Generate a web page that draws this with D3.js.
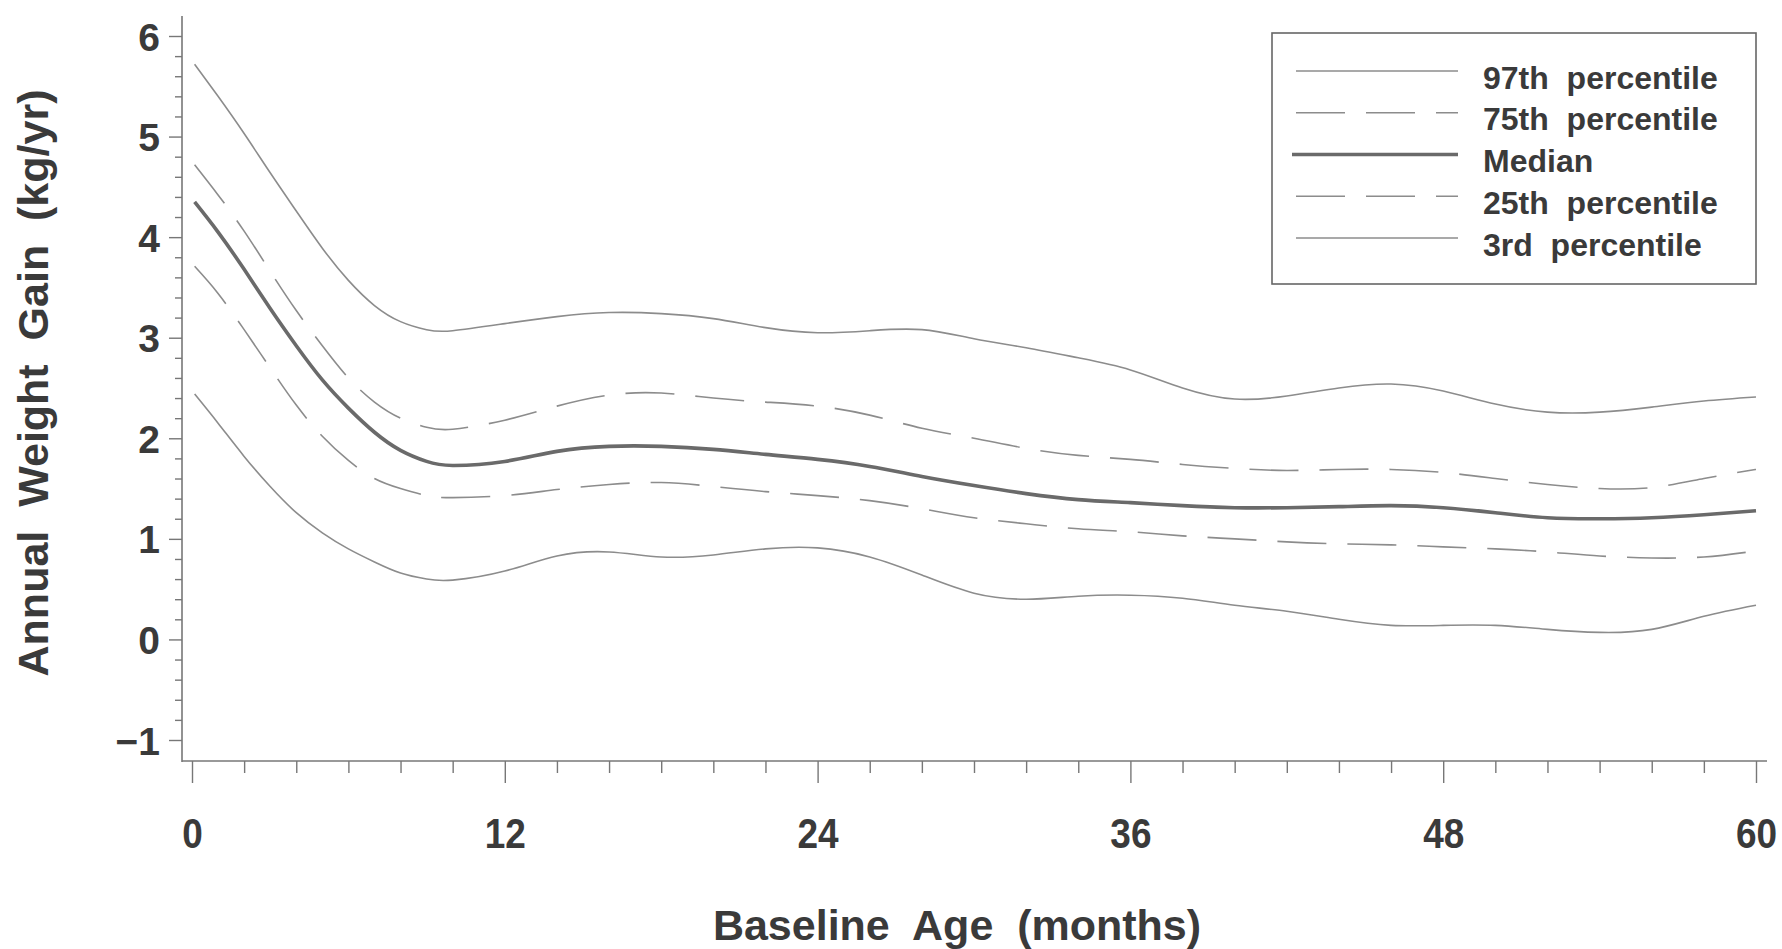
<!DOCTYPE html>
<html><head><meta charset="utf-8">
<script src="https://cdn.jsdelivr.net/npm/d3@7"></script>
<style>
body{margin:0;background:#fff;}
svg text{font-family:"Liberation Sans",Arial,Helvetica,sans-serif;font-weight:bold;fill:#3a3a3a;white-space:pre;}
</style></head>
<body><svg id="c" width="1782" height="949"></svg>
<script>
const months = [0.1,1,2,3,4,5,6,7,8,9,10,12,14,16,18,20,22,24,26,28,30,32,34,36,38,40,42,44,46,48,50,52,54,56,58,60];
const p97 = [5.72,5.40,5.03,4.64,4.26,3.89,3.57,3.32,3.16,3.08,3.07,3.14,3.21,3.25,3.24,3.19,3.10,3.05,3.07,3.08,2.99,2.90,2.80,2.68,2.50,2.39,2.42,2.50,2.54,2.47,2.34,2.26,2.26,2.31,2.37,2.41];
const p75 = [4.72,4.42,4.06,3.66,3.27,2.92,2.60,2.36,2.20,2.11,2.09,2.18,2.32,2.43,2.45,2.40,2.36,2.32,2.23,2.10,2.00,1.90,1.83,1.79,1.74,1.70,1.68,1.69,1.69,1.66,1.60,1.54,1.50,1.51,1.60,1.69];
const p50 = [4.35,4.05,3.68,3.29,2.92,2.58,2.30,2.06,1.88,1.77,1.73,1.77,1.87,1.92,1.92,1.89,1.84,1.79,1.72,1.62,1.53,1.45,1.39,1.36,1.33,1.31,1.31,1.32,1.33,1.31,1.26,1.21,1.20,1.21,1.24,1.28];
const p25 = [3.71,3.44,3.08,2.70,2.33,2.02,1.78,1.60,1.50,1.43,1.41,1.43,1.49,1.54,1.56,1.52,1.47,1.43,1.38,1.30,1.21,1.15,1.10,1.07,1.03,1.00,0.97,0.95,0.94,0.92,0.90,0.87,0.83,0.81,0.82,0.88];
const p3  = [2.44,2.15,1.82,1.52,1.26,1.06,0.90,0.77,0.66,0.60,0.59,0.68,0.83,0.87,0.82,0.84,0.90,0.91,0.82,0.64,0.46,0.40,0.43,0.44,0.41,0.34,0.28,0.20,0.14,0.14,0.14,0.10,0.07,0.10,0.23,0.34];
const seriesNames = ["97th  percentile","75th  percentile","Median","25th  percentile","3rd  percentile"];
const xMajorTicks = [0,12,24,36,48,60];
const yMajorTicks = [-1,0,1,2,3,4,5,6];
const xTitle = "Baseline  Age  (months)";
const yTitle = "Annual  Weight  Gain  (kg/yr)";

const svg = d3.select("#c");
const x = d3.scaleLinear().domain([0,60]).range([192,1756]);
const y = d3.scaleLinear().domain([-1,6]).range([740,36]);
const axisX0 = 182, axisXEnd = 1767, axisY = 761, axisYTop = 16;
const axisColor = "#777";

// axes lines
svg.append("line").attr("x1",axisX0).attr("x2",axisX0).attr("y1",axisYTop).attr("y2",axisY+1)
  .attr("stroke",axisColor).attr("stroke-width",1.6);
svg.append("line").attr("x1",axisX0).attr("x2",axisXEnd).attr("y1",axisY).attr("y2",axisY)
  .attr("stroke",axisColor).attr("stroke-width",1.6);

// x axis ticks
const xMinor = d3.range(0,61,2).filter(v=>v%12!==0);
const gxMinor = svg.append("g").attr("transform",`translate(0,${axisY})`)
  .call(d3.axisBottom(x).tickValues(xMinor).tickSize(12).tickFormat(""));
const gxMajor = svg.append("g").attr("transform",`translate(0,${axisY})`)
  .call(d3.axisBottom(x).tickValues(xMajorTicks).tickSize(22).tickPadding(50).tickFormat(d3.format("d")));
[gxMinor,gxMajor].forEach(g=>{g.select(".domain").remove();g.selectAll("line").attr("stroke",axisColor).attr("stroke-width",1.4);});
gxMajor.selectAll("text").attr("font-size",42).attr("dy","0.35em").attr("y",72)
  .attr("transform","scale(0.88,1)").style("fill","#3a3a3a");

// y axis ticks
const yMinor = d3.range(-10,61,2).map(v=>v/10).filter(v=>Math.abs(v-Math.round(v))>1e-6);
const gyMinor = svg.append("g").attr("transform",`translate(${axisX0},0)`)
  .call(d3.axisLeft(y).tickValues(yMinor).tickSize(7).tickFormat(""));
const gyMajor = svg.append("g").attr("transform",`translate(${axisX0},0)`)
  .call(d3.axisLeft(y).tickValues(yMajorTicks).tickSize(13).tickPadding(9)
    .tickFormat(d=> d<0 ? "\u2212"+Math.abs(d) : d));
[gyMinor,gyMajor].forEach(g=>{g.select(".domain").remove();g.selectAll("line").attr("stroke",axisColor).attr("stroke-width",1.4);});
gyMajor.selectAll("text").attr("font-size",39).attr("dy","0.36em").style("fill","#3a3a3a");

// titles
svg.append("text").attr("x",957).attr("y",940).attr("text-anchor","middle").attr("font-size",43).text(xTitle);
svg.append("text").attr("transform","translate(48,383) rotate(-90)").attr("text-anchor","middle").attr("font-size",43).text(yTitle);

// series
const seriesData = [p97,p75,p50,p25,p3];
const styles = [
  {stroke:"#8c8c8c",width:1.6,dash:null},
  {stroke:"#8c8c8c",width:1.6,dash:"49,21"},
  {stroke:"#6a6a6a",width:3.6,dash:null},
  {stroke:"#8c8c8c",width:1.6,dash:"49,21"},
  {stroke:"#8c8c8c",width:1.6,dash:null}
];
const line = d3.line().x((d,i)=>x(months[i])).y(d=>y(d)).curve(d3.curveNatural);
seriesData.forEach((s,k)=>{
  svg.append("path").datum(s).attr("d",line).attr("fill","none")
    .attr("stroke",styles[k].stroke).attr("stroke-width",styles[k].width)
    .attr("stroke-dasharray",styles[k].dash).attr("stroke-linecap","butt");
});

// legend
const lg = svg.append("g");
lg.append("rect").attr("x",1272).attr("y",33).attr("width",484).attr("height",251)
  .attr("fill","#fff").attr("stroke","#666").attr("stroke-width",1.6);
const rowY = d3.scalePoint().domain(seriesNames).range([71,238]);
seriesNames.forEach((n,k)=>{
  const yy = rowY(n);
  lg.append("line").attr("x1",k===2?1292:1296).attr("x2",1458).attr("y1",yy).attr("y2",yy)
    .attr("stroke",styles[k].stroke).attr("stroke-width",styles[k].width)
    .attr("stroke-dasharray",styles[k].dash);
  lg.append("text").attr("x",1483).attr("y",yy+6).attr("dy","0.36em").attr("font-size",32).text(n);
});
</script></body></html>
